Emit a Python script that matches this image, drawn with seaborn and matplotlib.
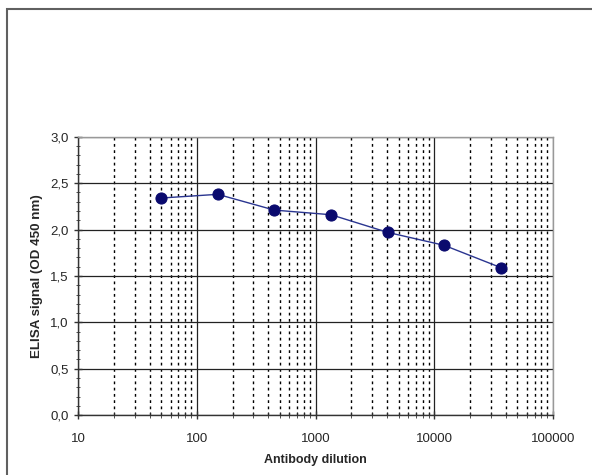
import numpy as np
import matplotlib
matplotlib.use('Agg')
import matplotlib.pyplot as plt
import seaborn as sns
import pandas as pd
from matplotlib.ticker import LogLocator, FixedLocator, MultipleLocator, FuncFormatter
from matplotlib.patches import Rectangle

# data
dilution = [50, 150, 450, 1350, 4050, 12150, 36450]
signal = [2.34, 2.38, 2.21, 2.16, 1.97, 1.83, 1.59]

sns.set_style('white')
plt.rcParams['font.family'] = ['Liberation Sans', 'DejaVu Sans']

df = pd.DataFrame({'dilution': dilution, 'signal': signal})

fig = plt.figure(figsize=(5.92, 4.75), dpi=100)
# outer chart frame (only top and left edges fall inside the image)
fig.patches.append(Rectangle((0.012, -0.05), 1.1, 1.032, transform=fig.transFigure,
                             fill=False, edgecolor='#606060', linewidth=1.5))
ax = fig.add_axes([0.132, 0.126, 0.802, 0.586])

sns.lineplot(data=df, x='dilution', y='signal', ax=ax, color='#2a3590', linewidth=1,
             marker='o', markersize=8, markerfacecolor='#0a0a6e', markeredgecolor='#0a0a6e')

ax.set_xscale('log')
ax.set_xlim(10, 100000)
ax.set_ylim(0, 3)
ax.xaxis.set_major_locator(FixedLocator([10, 100, 1000, 10000, 100000]))
ax.xaxis.set_minor_locator(LogLocator(base=10, subs=np.arange(2, 10), numticks=20))
ax.xaxis.set_major_formatter(FuncFormatter(lambda v, p: '%d' % v))
ax.yaxis.set_major_locator(MultipleLocator(0.5))
ax.yaxis.set_minor_locator(MultipleLocator(0.1))
ax.yaxis.set_major_formatter(FuncFormatter(lambda v, p: ('%.1f' % v).replace('.', ',')))

ax.grid(which='major', color='#222222', linewidth=0.9, linestyle='-')
ax.grid(which='minor', axis='x', color='black', linewidth=1.0, linestyle=(0, (2, 2.5)))
ax.set_axisbelow(True)

for s in ['top', 'right']:
    ax.spines[s].set_color('#999999')
    ax.spines[s].set_linewidth(1)
for s in ['left', 'bottom']:
    ax.spines[s].set_color('#333333')
    ax.spines[s].set_linewidth(1)

ax.tick_params(axis='both', which='both', direction='inout', color='#333333', labelsize=9.5,
               left=True, bottom=True)
ax.tick_params(axis='both', which='major', length=6, width=1)
ax.tick_params(axis='y', which='minor', length=3)
ax.tick_params(axis='x', which='minor', length=5)
ax.tick_params(axis='x', which='major', pad=10)
ax.tick_params(axis='y', which='major', pad=4)

ax.set_xlabel('Antibody dilution', fontsize=9, fontweight='bold', labelpad=6)
ax.set_ylabel('ELISA signal (OD 450 nm)', fontsize=9.6, fontweight='bold', labelpad=5)

fig.savefig('out.png', dpi=100)
